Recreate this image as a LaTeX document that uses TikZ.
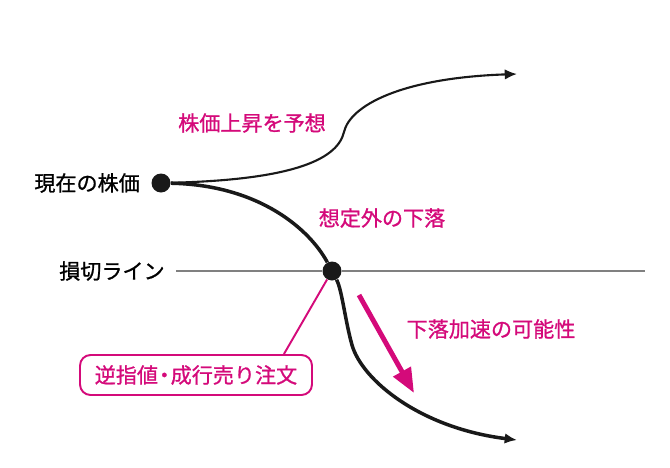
\documentclass[tikz,border=0pt]{standalone}
\usepackage{fontspec}
\setmainfont{Noto Sans CJK JP}[FakeBold=1]
\usetikzlibrary{positioning,arrows.meta}
\definecolor{stockpink}{RGB}{212,10,122}

\begin{document}
\begin{tikzpicture}[x=0.02cm,y=-0.02cm,
            dot/.style = {circle, fill=black!90, inner sep=0pt, minimum size=0.38cm},
            tag/.style = {inner sep=0pt, font=\fontsize{12}{14}\selectfont},
            note/.style = {tag, text=stockpink},
            order/.style={rectangle, draw=stockpink, text=stockpink, line width=1.1pt,
                   rounded corners=6pt, minimum width=4.64cm, minimum height=0.8cm,
                   font=\fontsize{12}{14}\selectfont},
            price/.style={draw=black!90, line width=1.2pt},
            arrow/.style={-{Latex[length=7pt,width=6pt]}}
        ]
            \useasboundingbox (0,0) rectangle (670,467);
            \node [dot] (now) at (161,183) {};
            \node [dot] (stop) at (332,271) {};
            \node [tag,left=0.22cm of now] (nowlabel) {現在の株価};
            \coordinate (lineL) at (176,271);
            \coordinate (lineR) at (645,271);
            \node [tag,left=0.22cm of lineL] (stoplabel) {損切ライン};
            \coordinate (upend) at (517,74);
            \coordinate (downend) at (517,440);
            \node [note] (riselabel) at (252,123) {株価上昇を予想};
            \node [note] (droplabel) at (382,218) {想定外の下落};
            \node [note] (fastlabel) at (491,329) {下落加速の可能性};
            \node [order] (order) at (196,375) {逆指値\kern-0.2em・\kern-0.2em成行売り注文};
            \coordinate (fallA) at (359,295);
            \coordinate (fallB) at (414,393);

            % Draw edges
            \draw [gray, line width=0.7pt] (lineL) -- (stop);
            \draw [gray, line width=0.7pt] (stop) -- (lineR);
            \draw [price, arrow] (now) .. controls (285,180) and (337,162) .. (344,132)
                .. controls (350,106) and (400,78) .. (upend);
            \draw [price, line width=2pt] (now) .. controls (260,185) and (310,230) .. (stop);
            \draw [price, line width=2pt, arrow] (stop) .. controls (342,290) and (345,320) .. (352,345)
                .. controls (362,380) and (420,428) .. (downend);
            \draw [stockpink, line width=1.1pt] (stop) -- ([xshift=-0.58cm]order.north east);
            \draw [stockpink, line width=2.8pt, -{Triangle[length=14pt,width=11pt]}] (fallA) -- (fallB);
        \end{tikzpicture}
\end{document}
